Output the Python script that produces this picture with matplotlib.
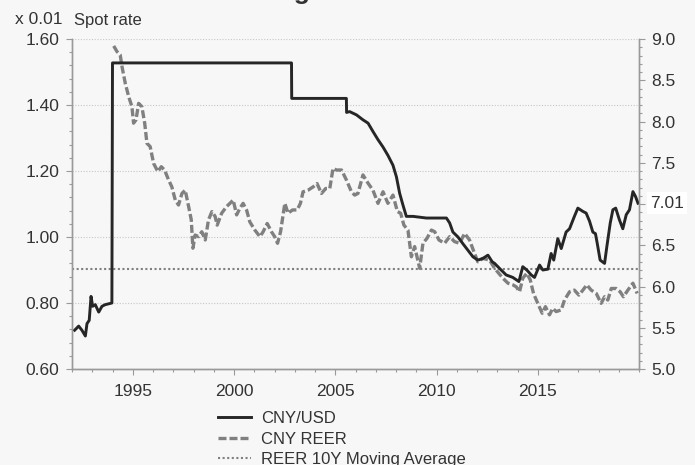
import matplotlib
matplotlib.use("Agg")
import matplotlib.pyplot as plt
from matplotlib.ticker import MultipleLocator, FixedLocator, FormatStrFormatter, FuncFormatter
from matplotlib.lines import Line2D

plt.rcParams['font.family'] = ['Liberation Sans', 'DejaVu Sans']

# CNY/USD spot rate (right axis)
usd_t = [1992.13, 1992.33, 1992.49, 1992.66, 1992.74, 1992.85, 1992.94, 1993.02, 1993.15,
         1993.32, 1993.48, 1993.64, 1993.81, 1993.97, 1994.00, 2002.84, 2002.85, 2005.55,
         2005.56, 2005.71, 2006.05, 2006.37, 2006.62, 2006.86, 2007.11, 2007.36, 2007.60,
         2007.85, 2008.02, 2008.18, 2008.34, 2008.51, 2008.84, 2009.50, 2010.49, 2010.65,
         2010.81, 2011.06, 2011.30, 2011.55, 2011.80, 2012.04, 2012.29, 2012.54, 2012.75,
         2012.87, 2013.11, 2013.44, 2013.77, 2014.07, 2014.26, 2014.46, 2014.68, 2014.84,
         2015.09, 2015.25, 2015.50, 2015.66, 2015.79, 2015.99, 2016.16, 2016.40, 2016.57,
         2016.81, 2016.98, 2017.23, 2017.39, 2017.56, 2017.72, 2017.85, 2017.94, 2018.08,
         2018.30, 2018.41, 2018.58, 2018.71, 2018.85, 2019.03, 2019.20, 2019.37, 2019.53,
         2019.70, 2019.83, 2019.95]
usd_v = [5.47, 5.52, 5.47, 5.40, 5.55, 5.59, 5.88, 5.76, 5.78,
         5.69, 5.76, 5.78, 5.79, 5.80, 8.71, 8.71, 8.28, 8.28,
         8.11, 8.12, 8.08, 8.02, 7.98, 7.88, 7.78, 7.69, 7.59,
         7.47, 7.33, 7.13, 6.99, 6.85, 6.85, 6.83, 6.83, 6.77,
         6.66, 6.60, 6.52, 6.44, 6.36, 6.32, 6.34, 6.38, 6.30,
         6.28, 6.22, 6.14, 6.11, 6.06, 6.24, 6.20, 6.14, 6.11,
         6.26, 6.20, 6.21, 6.40, 6.32, 6.58, 6.46, 6.66, 6.70,
         6.85, 6.95, 6.91, 6.89, 6.79, 6.66, 6.64, 6.52, 6.32,
         6.28, 6.48, 6.77, 6.93, 6.95, 6.81, 6.70, 6.87, 6.93,
         7.15, 7.09, 7.01]

# CNY REER (left axis, x 0.01)
reer_t = [1994.06, 1994.22, 1994.38, 1994.47, 1994.63, 1994.80, 1994.96, 1995.04, 1995.16,
          1995.29, 1995.45, 1995.59, 1995.70, 1995.86, 1996.03, 1996.24, 1996.41, 1996.57,
          1996.77, 1996.93, 1997.10, 1997.26, 1997.43, 1997.59, 1997.76, 1997.89, 1997.97,
          1998.08, 1998.25, 1998.41, 1998.58, 1998.74, 1998.91, 1999.07, 1999.17, 1999.39,
          1999.63, 1999.80, 1999.96, 2000.13, 2000.29, 2000.45, 2000.62, 2000.78, 2001.03,
          2001.28, 2001.44, 2001.64, 2001.85, 2002.01, 2002.15, 2002.30, 2002.51, 2002.67,
          2002.89, 2003.12, 2003.28, 2003.41, 2003.66, 2003.91, 2004.10, 2004.32, 2004.53,
          2004.73, 2004.89, 2005.06, 2005.31, 2005.55, 2005.80, 2005.96, 2006.12, 2006.37,
          2006.62, 2006.86, 2007.11, 2007.36, 2007.60, 2007.85, 2008.07, 2008.23, 2008.39,
          2008.59, 2008.76, 2008.92, 2009.17, 2009.33, 2009.53, 2009.75, 2009.91, 2010.12,
          2010.40, 2010.65, 2010.89, 2011.14, 2011.39, 2011.63, 2011.88, 2012.04, 2012.29,
          2012.62, 2012.87, 2013.28, 2013.53, 2013.77, 2013.94, 2014.10, 2014.26, 2014.46,
          2014.63, 2014.79, 2015.00, 2015.22, 2015.38, 2015.58, 2015.74, 2015.91, 2016.16,
          2016.32, 2016.57, 2016.81, 2017.03, 2017.23, 2017.42, 2017.64, 2017.89, 2018.13,
          2018.30, 2018.46, 2018.63, 2018.87, 2019.07, 2019.23, 2019.45, 2019.70, 2019.91]
reer_v = [1.579, 1.562, 1.552, 1.516, 1.466, 1.425, 1.395, 1.345, 1.355,
          1.405, 1.395, 1.345, 1.284, 1.274, 1.223, 1.198, 1.213, 1.203,
          1.173, 1.152, 1.112, 1.097, 1.132, 1.142, 1.092, 1.052, 0.966,
          1.006, 1.001, 1.016, 0.991, 1.052, 1.077, 1.062, 1.036, 1.072,
          1.092, 1.102, 1.112, 1.067, 1.087, 1.102, 1.082, 1.046, 1.021,
          1.001, 1.016, 1.041, 1.016, 1.001, 0.981, 1.016, 1.102, 1.072,
          1.082, 1.082, 1.102, 1.137, 1.142, 1.152, 1.162, 1.132, 1.147,
          1.147, 1.208, 1.203, 1.203, 1.173, 1.137, 1.127, 1.132, 1.188,
          1.163, 1.142, 1.102, 1.137, 1.102, 1.127, 1.077, 1.072, 1.036,
          1.021, 0.940, 0.971, 0.905, 0.981, 0.996, 1.021, 1.016, 0.991,
          0.981, 1.001, 0.986, 0.981, 1.011, 0.991, 0.950, 0.925, 0.935,
          0.930, 0.905, 0.875, 0.860, 0.855, 0.849, 0.834, 0.875, 0.890,
          0.870, 0.829, 0.799, 0.769, 0.789, 0.764, 0.784, 0.774, 0.779,
          0.809, 0.834, 0.839, 0.824, 0.839, 0.855, 0.839, 0.829, 0.799,
          0.819, 0.809, 0.844, 0.844, 0.834, 0.819, 0.839, 0.860, 0.829]

# REER 10Y moving average (left axis)
ma_t = [1992.0, 2020.0]
ma_v = [0.903, 0.903]

x_ticks = [1995, 2000, 2005, 2010, 2015]
last_value = 7.01
last_label = "7.01"
labels = ["CNY/USD", "CNY REER", "REER 10Y Moving Average"]

BG = '#f7f7f7'
TXT = '#333333'
SPINE = '#9a9a9a'
BLACK = '#262626'
GRAY = '#808080'

fig = plt.figure(figsize=(6.95, 4.65), dpi=100, facecolor=BG)
ax = fig.add_axes([72/695, 1-369/465, (639-72)/695, (369-39)/465])
ax.set_facecolor(BG)
ax2 = ax.twinx()

l_reer, = ax.plot(reer_t, reer_v, color=GRAY, lw=2.4, dashes=(2.4, 0.9), label=labels[1])
l_ma, = ax.plot(ma_t, ma_v, color=GRAY, lw=1.5, linestyle=(0, (1, 1.2)), label=labels[2])
l_usd, = ax2.plot(usd_t, usd_v, color=BLACK, lw=2.1, label=labels[0])

ax.set_xlim(1992, 2020)
ax.set_ylim(0.60, 1.60)
ax2.set_ylim(5.0, 9.0)

ax.xaxis.set_major_locator(FixedLocator(x_ticks))
ax.xaxis.set_minor_locator(MultipleLocator(1))
ax.yaxis.set_major_locator(MultipleLocator(0.2))
ax.yaxis.set_minor_locator(MultipleLocator(0.04))
ax.yaxis.set_major_formatter(FormatStrFormatter('%.2f'))
ax2.yaxis.set_major_locator(MultipleLocator(0.5))
ax2.yaxis.set_minor_locator(MultipleLocator(0.1))
ax2.yaxis.set_major_formatter(
    FuncFormatter(lambda v, p: '' if abs(v - last_value) < 0.2 else '%.1f' % v))

ax.grid(axis='y', which='major', color='#c8c8c8', linestyle=(0, (1, 1.5)), lw=0.8)
ax.set_axisbelow(True)

for a in (ax, ax2):
    a.spines['top'].set_visible(False)
    for s in ('left', 'right', 'bottom'):
        a.spines[s].set_color(SPINE)
        a.spines[s].set_linewidth(1.0)
    a.tick_params(which='major', length=4.5, width=0.8, color=SPINE, labelsize=12.5,
                  labelcolor=TXT, pad=4.5)
    a.tick_params(which='minor', length=2.5, width=0.8, color=SPINE)

ax.tick_params(axis='x', pad=6)

ax2.annotate(last_label, xy=(1, last_value), xycoords=ax2.get_yaxis_transform(),
             xytext=(8, 0), textcoords='offset points', ha='left', va='center',
             fontsize=12.5, color=TXT,
             bbox=dict(boxstyle='square,pad=0.2', fc='white', ec='none'))

fig.text(15/695, 1-19/465, "x 0.01", fontsize=12.5, color=TXT, ha='left', va='center')
fig.text(74/695, 1-21/465, "Spot rate", fontsize=12, color=TXT, ha='left', va='center')
fig.text(200/695, 1+1.5/465, "Exchange rate", fontsize=19, color=TXT, ha='left',
         va='baseline', fontweight='bold')

fig.legend([l_usd, l_reer, l_ma], labels, loc='upper left',
           bbox_to_anchor=(218/695, 1-411/465), frameon=False, fontsize=12,
           handlelength=2.0, handletextpad=0.6, labelspacing=0.33, borderpad=0,
           borderaxespad=0, labelcolor=TXT)

fig.savefig('out.png', dpi=100, facecolor=BG)
